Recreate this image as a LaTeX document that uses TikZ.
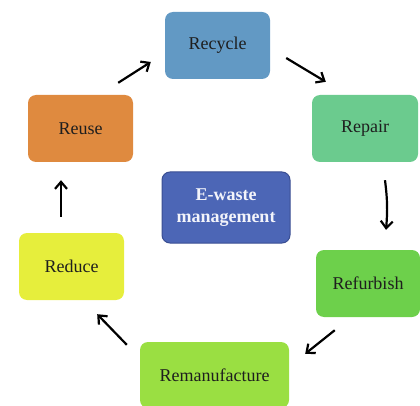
\documentclass[tikz,border=0pt]{standalone}
\usepackage{fontspec}
\setmainfont{Liberation Serif}
\usetikzlibrary{arrows.meta}
\definecolor{cRecycle}{HTML}{6299C4}
\definecolor{cRepair}{HTML}{6BCB8E}
\definecolor{cReuse}{HTML}{DF8A3F}
\definecolor{cReduce}{HTML}{E6EE3C}
\definecolor{cRefurb}{HTML}{6DD04B}
\definecolor{cReman}{HTML}{9ADF42}
\definecolor{cEw}{HTML}{4C66B6}
\definecolor{cEwB}{HTML}{3A4E92}
\definecolor{txt}{HTML}{1E1E1E}
\tikzset{
  stagebox/.style={rounded corners=8pt, minimum width=105pt, minimum height=67pt,
    inner sep=0pt, font=\fontsize{18}{21}\selectfont, text=txt},
  arr/.style={line width=2.2pt, -{Straight Barb[length=7pt,width=12pt,line width=2.2pt]}}
}
\begin{document}
\begin{tikzpicture}[x=1pt,y=-1pt]
\useasboundingbox (0,0) rectangle (420,406);
\node[stagebox, fill=cRecycle] (recycle) at (217.5,45.5) {Recycle};
\node[stagebox, fill=cRepair, minimum width=106pt] (repair) at (365,128.5) {Repair};
\node[stagebox, fill=cReuse] (reuse) at (80.5,128.5) {Reuse};
\node[stagebox, fill=cReduce] (reduce) at (71.5,266.5) {Reduce};
\node[stagebox, fill=cRefurb, minimum width=104pt] (refurb) at (368,283.5) {Refurbish};
\node[stagebox, fill=cReman, minimum width=149pt, minimum height=66pt] (reman) at (214.5,375) {Remanufacture};
\node[stagebox, fill=cEw, draw=cEwB, line width=1pt, minimum width=128pt, minimum height=71pt,
  text=white!93!cEw, font=\fontsize{18}{22}\selectfont\bfseries, align=center] (ewaste) at (226,207.5) {E-waste\\management};
\draw[arr] ([shift={(-15,-12)}]reuse.north east) -- ([shift={(-14,16.5)}]recycle.west);
\draw[arr] ([shift={(16,12.5)}]recycle.east) -- ([shift={(14,-13)}]repair.north west);
\draw[arr] ([shift={(20,18)}]repair.south) to[bend left=6] ([shift={(18,-20)}]refurb.north);
\draw[arr] ([shift={(19,13)}]refurb.south west) -- ([shift={(16,12)}]reman.north east);
\draw[arr] ([shift={(-13,3)}]reman.north west) -- ([shift={(-27,14)}]reduce.south east);
\draw[arr] ([shift={(-10.5,-16)}]reduce.north) -- ([shift={(-19.5,18)}]reuse.south);
\end{tikzpicture}
\end{document}
